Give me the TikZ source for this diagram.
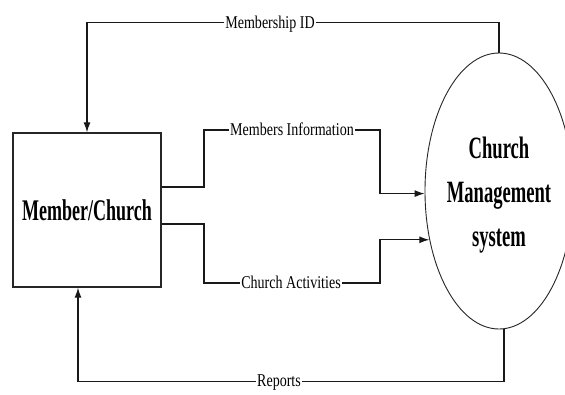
\documentclass[tikz,border=0pt]{standalone}
\usepackage{fontspec}
\setmainfont{Liberation Serif}
\newfontfamily\bigfont[FakeStretch=0.6]{Liberation Serif}
\newfontfamily\lblfont[FakeStretch=0.78]{Liberation Serif}
\usetikzlibrary{arrows.meta,shapes.geometric}
\begin{document}
\begin{tikzpicture}[x=1pt,y=-1pt,
  line width=1.2pt,
  conn/.style={draw=black!90},
  arr/.style={conn,-{Latex[length=10pt,width=7pt]}},
  lbl/.style={fill=white,inner sep=1pt,anchor=base,font=\lblfont\fontsize{18}{20}\selectfont},
  entity/.style={draw=black!85,line width=1.3pt,minimum width=148pt,minimum height=154pt,inner sep=0pt,
    font=\bigfont\bfseries\fontsize{30}{36}\selectfont},
  proc/.style={ellipse,draw=black!85,line width=0.9pt,minimum width=148pt,minimum height=276pt,inner sep=0pt},
  proctext/.style={align=center,inner sep=0pt,font=\bigfont\bfseries\fontsize{31}{44}\selectfont}]
\clip (0,0) rectangle (565,394);
\fill[white] (0,0) rectangle (565,394);
\node[entity] (box) at (87,210) {Member/Church};
\node[proc] (ell) at (499,191) {};
\node[proctext] (ellt) at (499,195) {Church\\Management\\system};
% Membership ID
\draw[arr] (ell.north) -- ++(0,-30) -| (box.north);
% Members Information
\draw[arr] ([yshift=23pt]box.east) -- (204,187) -- (204,130) -- (380,130) |- (ell.182);
% Church Activities
\draw[arr] ([yshift=-14pt]box.east) -- (204,224) -- (204,283) -- (380,283) |- (ell.215);
% Reports
\draw[arr] ([xshift=5pt]ell.south) -- ++(0,52) -| ([xshift=-9pt]box.south);
\node[lbl] (lid) at (270,28) {Membership ID};
\node[lbl] (linfo) at (292,135) {Members Information};
\node[lbl] (lact) at (291,288) {Church Activities};
\node[lbl] (lrep) at (279,386) {Reports};
\end{tikzpicture}
\end{document}
